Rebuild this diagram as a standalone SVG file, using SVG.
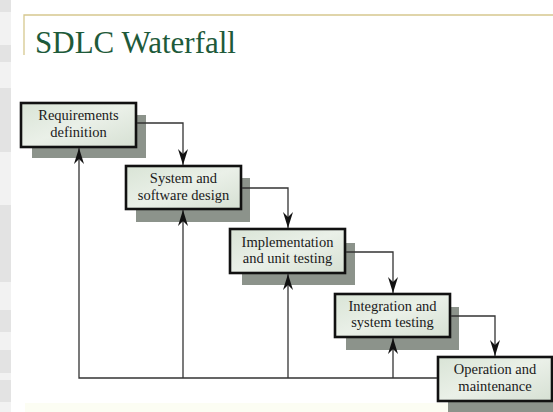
<svg xmlns="http://www.w3.org/2000/svg" width="553" height="412" viewBox="0 0 553 412">
  <defs>
    <linearGradient id="boxfill" x1="0" y1="0" x2="1" y2="1">
      <stop offset="0" stop-color="#d9e4d6"/>
      <stop offset="0.5" stop-color="#eaf0e8"/>
      <stop offset="1" stop-color="#d6e0d3"/>
    </linearGradient>
    <marker id="arr" viewBox="0 0 16 10" refX="16" refY="5" markerWidth="16" markerHeight="10" markerUnits="userSpaceOnUse" orient="auto">
      <path d="M16,5 L0,0 L5,5 L0,10 Z" fill="#111"/>
    </marker>
    <style>
      .box { fill: url(#boxfill); stroke: #111; stroke-width: 2.6; }
      .shadow { fill: #8c938b; }
      .lbl { font-family: "Liberation Serif", "Times New Roman", serif; font-size: 14.5px; fill: #1a1a1a; text-anchor: middle; }
      .conn { fill: none; stroke: #333; stroke-width: 1.3; }
      .stripe { fill: #e3e3e3; }
    </style>
  </defs>

  <rect width="553" height="412" fill="#ffffff"/>

  <!-- left edge stripes -->
  <g id="edge">
    <rect x="0" y="0" width="11" height="412" fill="#f2f2f2"/>
    <rect class="stripe" x="0" y="0" width="11" height="12"/>
    <rect class="stripe" x="0" y="45" width="11" height="17"/>
    <rect class="stripe" x="0" y="88" width="11" height="64"/>
    <rect class="stripe" x="0" y="205" width="11" height="77"/>
    <rect class="stripe" x="0" y="310" width="11" height="22"/>
    <rect class="stripe" x="0" y="350" width="11" height="23"/>
    <rect class="stripe" x="0" y="380" width="11" height="22"/>
  </g>

  <!-- title frame -->
  <g id="title">
    <path d="M24,55 V15 H553" fill="none" stroke="#d6c88f" stroke-width="1.3"/>
    <text x="35" y="53" font-family="'Liberation Serif', 'Times New Roman', serif" font-size="31" fill="#1e5a3a">SDLC Waterfall</text>
  </g>
  <rect x="25" y="403" width="528" height="9" fill="#fcfdf3"/>

  <g id="requirements">
    <rect class="shadow" x="32" y="115" width="114" height="43"/>
    <rect class="box" x="21" y="103" width="115" height="44"/>
    <text class="lbl" x="78.5" y="120">Requirements</text>
    <text class="lbl" x="78.5" y="137">definition</text>
  </g>

  <g id="design">
    <rect class="shadow" x="136" y="178" width="114" height="44"/>
    <rect class="box" x="126" y="166" width="115" height="43"/>
    <text class="lbl" x="183.5" y="183">System and</text>
    <text class="lbl" x="183.5" y="200">software design</text>
  </g>

  <g id="implementation">
    <rect class="shadow" x="242" y="243" width="113" height="42"/>
    <rect class="box" x="230" y="229" width="115" height="44"/>
    <text class="lbl" x="287.5" y="247">Implementation</text>
    <text class="lbl" x="287.5" y="263">and unit testing</text>
  </g>

  <g id="integration">
    <rect class="shadow" x="346" y="307" width="113" height="43"/>
    <rect class="box" x="335" y="294" width="115" height="43"/>
    <text class="lbl" x="392.5" y="311">Integration and</text>
    <text class="lbl" x="392.5" y="327">system testing</text>
  </g>

  <g id="operation">
    <rect class="shadow" x="448" y="369" width="105" height="43"/>
    <rect class="box" x="438" y="357" width="114" height="44"/>
    <text class="lbl" x="495" y="374">Operation and</text>
    <text class="lbl" x="495" y="391">maintenance</text>
  </g>

  <!-- connectors (drawn on top so arrowheads show over shadows) -->
  <g id="connectors">
    <path class="conn" d="M137,123 H183 V165" marker-end="url(#arr)"/>
    <path class="conn" d="M242,188 H288 V228" marker-end="url(#arr)"/>
    <path class="conn" d="M346,252 H393 V293" marker-end="url(#arr)"/>
    <path class="conn" d="M451,316 H495 V356" marker-end="url(#arr)"/>
    <path class="conn" d="M437,378 H79 V148" marker-end="url(#arr)"/>
    <path class="conn" d="M183,378 V210" marker-end="url(#arr)"/>
    <path class="conn" d="M288,378 V274" marker-end="url(#arr)"/>
    <path class="conn" d="M393,378 V338" marker-end="url(#arr)"/>
  </g>
</svg>
